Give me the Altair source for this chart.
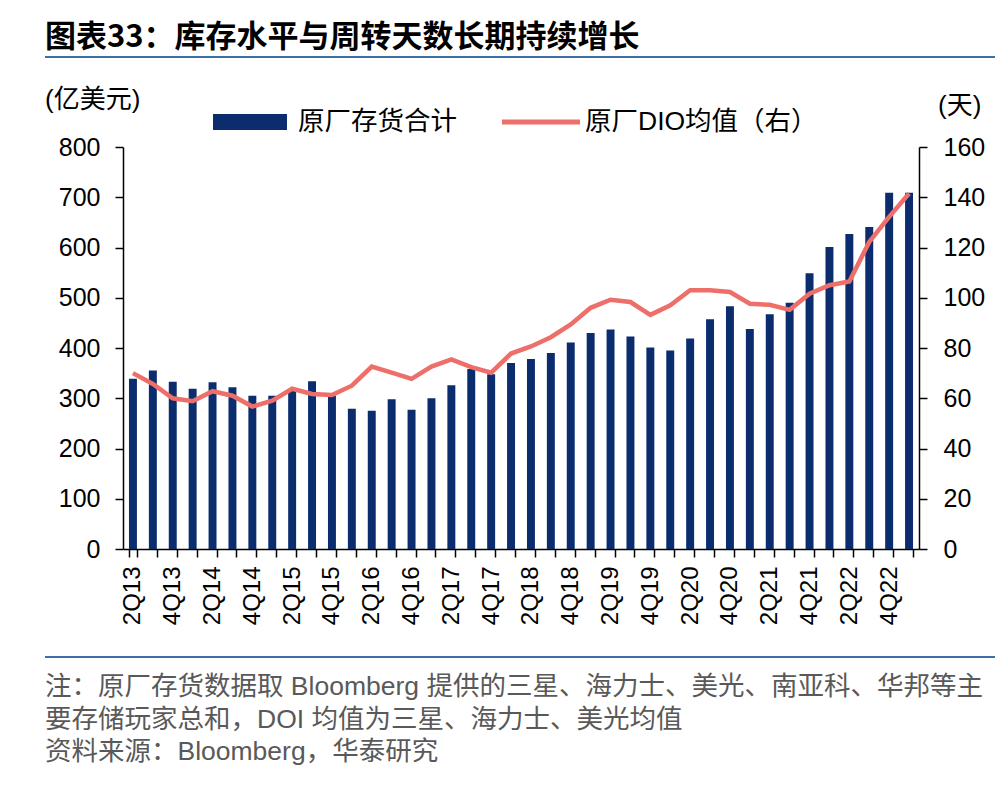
import altair as alt
import pandas as pd

quarters = [
    "2Q13", "3Q13", "4Q13",
    "1Q14", "2Q14", "3Q14", "4Q14",
    "1Q15", "2Q15", "3Q15", "4Q15",
    "1Q16", "2Q16", "3Q16", "4Q16",
    "1Q17", "2Q17", "3Q17", "4Q17",
    "1Q18", "2Q18", "3Q18", "4Q18",
    "1Q19", "2Q19", "3Q19", "4Q19",
    "1Q20", "2Q20", "3Q20", "4Q20",
    "1Q21", "2Q21", "3Q21", "4Q21",
    "1Q22", "2Q22", "3Q22", "4Q22",
    "1Q23",
]
inventory = [
    339, 355, 333,
    319, 332, 322, 305,
    305, 315, 334, 305,
    279, 275, 298, 277,
    300, 326, 358, 348,
    370, 378, 390, 411,
    430, 437, 423, 401,
    395, 419, 457, 483,
    438, 467, 490, 549,
    601, 627, 641, 709,
    709,
]
dio = [
    70.0, 65.7, 60.0,
    58.8, 62.8, 61.0, 56.7,
    59.0, 63.8, 61.7, 61.3,
    65.0, 72.6, 70.2, 67.7,
    72.6, 75.5, 72.4, 70.2,
    77.8, 80.6, 84.3, 89.4,
    96.0, 99.2, 98.3, 93.2,
    97.0, 103.0, 103.0, 102.3,
    97.6, 97.2, 95.2, 101.6,
    105.0, 106.5, 122.2, 132.2,
    141.5,
]
label_quarters = quarters[0::2]

title_text = "图表33：库存水平与周转天数长期持续增长"
left_unit = "(亿美元)"
right_unit = "(天)"
legend_bar = "原厂存货合计"
legend_line = "原厂DIO均值（右）"
note_lines = [
    "注：原厂存货数据取 Bloomberg 提供的三星、海力士、美光、南亚科、华邦等主",
    "要存储玩家总和，DOI 均值为三星、海力士、美光均值",
    "资料来源：Bloomberg，华泰研究",
]

df = pd.DataFrame({"q": quarters, "inv": inventory, "dio": dio})

NAVY = "#0b2d6e"
RED = "#ee6e69"
NUM_FONT = "Liberation Sans"
CJK_FONT = "Liberation Sans, Noto Sans CJK SC"

W, H = 796, 402

band = alt.Scale(type="band", paddingInner=0.6, paddingOuter=0.3)

label_list = "[" + ",".join("'%s'" % q for q in label_quarters) + "]"
label_expr = "indexof(%s, datum.value) >= 0 ? datum.value : ''" % label_list

x_axis = alt.Axis(labelExpr=label_expr, labelOverlap=False, labelAngle=-90,
                  orient="bottom", ticks=True, tickBand="extent",
                  tickSize=8, tickColor="black", tickWidth=1.5,
                  domain=True, domainColor="black", domainWidth=1.5,
                  labelFont=NUM_FONT, labelFontSize=24, labelColor="black",
                  labelPadding=9, title=None, grid=False)

bars = alt.Chart(df).mark_bar(color=NAVY).encode(
    x=alt.X("q:N", sort=None, scale=band, axis=x_axis),
    y=alt.Y("inv:Q", scale=alt.Scale(domain=[0, 800], nice=False),
            axis=alt.Axis(values=list(range(0, 801, 100)), orient="left",
                          title=None, grid=False, tickSize=8, tickColor="black",
                          domainColor="black", domainWidth=1.5, tickWidth=1.5,
                          labelFont=NUM_FONT, labelFontSize=25, labelColor="black",
                          labelPadding=15)),
)

line = alt.Chart(df).mark_line(color=RED, strokeWidth=4.5).encode(
    x=alt.X("q:N", sort=None, scale=band, axis=x_axis),
    y=alt.Y("dio:Q", scale=alt.Scale(domain=[0, 160], nice=False),
            axis=alt.Axis(values=list(range(0, 161, 20)), orient="right",
                          title=None, grid=False, tickSize=8, tickColor="black",
                          domainColor="black", domainWidth=1.5, tickWidth=1.5,
                          labelFont=NUM_FONT, labelFontSize=25, labelColor="black",
                          labelPadding=16)),
)

def text_layer(txt, x, y, size, font=CJK_FONT, color="black", weight="normal", align="left"):
    return alt.Chart(pd.DataFrame({"t": [txt]})).mark_text(
        font=font, fontSize=size, color=color, fontWeight=weight,
        align=align, baseline="middle",
    ).encode(x=alt.value(x), y=alt.value(y), text="t:N")

one = pd.DataFrame({"a": [0]})

title = text_layer(title_text, -78, -109, 31, font="Noto Sans CJK SC", weight="bold")
rule_top = alt.Chart(one).mark_rule(color="#3d6fa8", strokeWidth=2).encode(
    x=alt.value(-78), x2=alt.value(872), y=alt.value(-90))
rule_bottom = alt.Chart(one).mark_rule(color="#3d6fa8", strokeWidth=2).encode(
    x=alt.value(-78), x2=alt.value(872), y=alt.value(510))

unit_left = text_layer(left_unit, -78, -47, 26)
unit_right = text_layer(right_unit, 815, -41, 26)

leg_rect = alt.Chart(one).mark_rect(color=NAVY).encode(
    x=alt.value(90), x2=alt.value(164), y=alt.value(-33), y2=alt.value(-17))
leg_text1 = text_layer(legend_bar, 175, -25, 26.5)
leg_line = alt.Chart(one).mark_rule(color=RED, strokeWidth=5).encode(
    x=alt.value(379), x2=alt.value(457), y=alt.value(-25))
leg_text2 = text_layer(legend_line, 462, -25, 26.5)

notes = [text_layer(t, -78, 540 + i * 32.5, 26.5, color="#595959") for i, t in enumerate(note_lines)]

chart = alt.layer(
    bars, line,
    title, rule_top, rule_bottom, unit_left, unit_right,
    leg_rect, leg_text1, leg_line, leg_text2, *notes,
).resolve_scale(
    y="independent"
).properties(
    width=W, height=H,
    autosize=alt.AutoSizeParams(type="none"),
    padding={"left": 123, "top": 147, "right": 1000 - 123 - W, "bottom": 797 - 147 - H},
    background="white",
).configure_view(stroke=None)

chart.save("out.html", embed_options={"renderer": "svg", "actions": False})
